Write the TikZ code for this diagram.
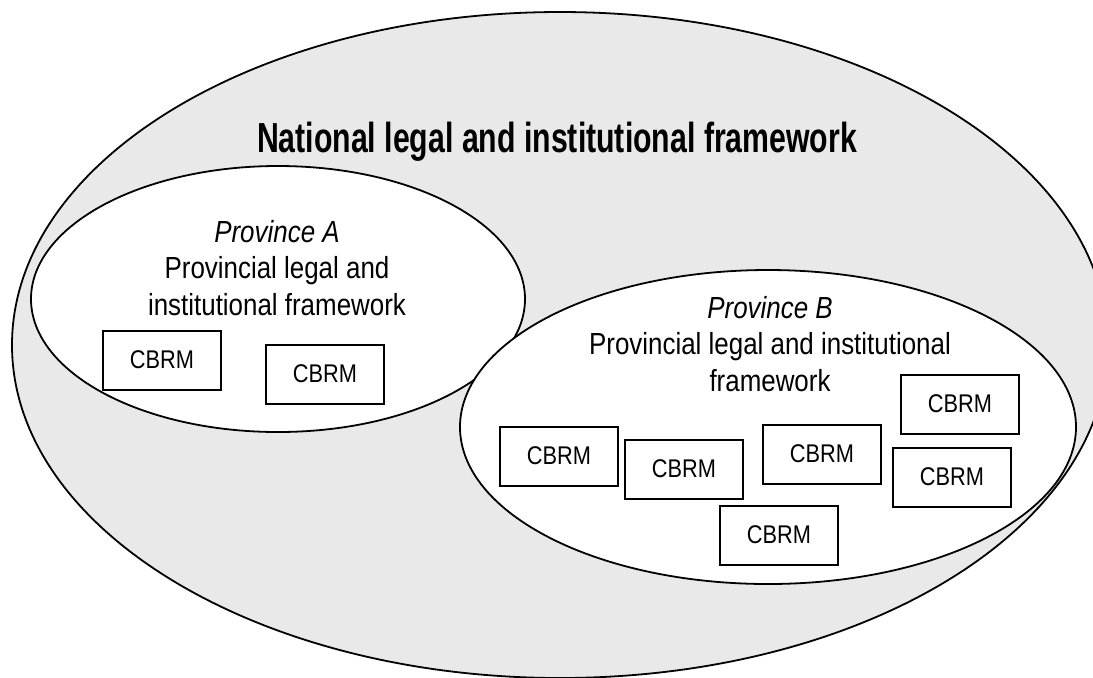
\documentclass[tikz,border=0pt]{standalone}
\usepackage{fontspec}
\setmainfont{Liberation Sans}[FakeStretch=0.85]
\newfontfamily\titlefont{Liberation Sans}[FakeStretch=0.72]
\usepackage{xcolor}
\definecolor{frameGrey}{RGB}{233,233,233}

\begin{document}
\begin{tikzpicture}[x=0.5pt, y=-0.5pt,
		zone/.style={draw, line width=0.9pt},
		prov/.style={align=center, font=\fontsize{15.25}{18.25}\selectfont},
		cbrm/.style={draw, line width=1pt, fill=white, minimum width=59pt, minimum height=29.5pt, inner sep=0pt, font=\fontsize{12.8}{14}\selectfont}]
			\useasboundingbox (0,0) rectangle (1093,677);
			\clip (0,0) rectangle (1093,677);
			\draw[zone, fill=frameGrey] (560,345) ellipse [x radius=548, y radius=333];
			\draw[zone, fill=white] (278,299) ellipse [x radius=247, y radius=133];
			\draw[zone, fill=white] (768,427) ellipse [x radius=308, y radius=157];
			\node[anchor=base, font=\titlefont\bfseries\fontsize{21}{24}\selectfont] (natl) at (557,152) {National legal and institutional framework};
			\node[prov, anchor=base] (provA) at (277,315) {\textit{Province A}\\Provincial legal and\\institutional framework};
			\node[prov, anchor=base] (provB) at (770,391) {\textit{Province B}\\Provincial legal and institutional\\framework};
			\node[cbrm] (cbrmA1) at (162,360) {CBRM};
			\node[cbrm] (cbrmA2) at (325,374) {CBRM};
			\node[cbrm] (cbrmB1) at (559,456) {CBRM};
			\node[cbrm] (cbrmB2) at (684,469) {CBRM};
			\node[cbrm] (cbrmB3) at (822,454) {CBRM};
			\node[cbrm] (cbrmB4) at (960,404) {CBRM};
			\node[cbrm] (cbrmB5) at (952,477) {CBRM};
			\node[cbrm] (cbrmB6) at (779,535) {CBRM};
		\end{tikzpicture}
\end{document}
